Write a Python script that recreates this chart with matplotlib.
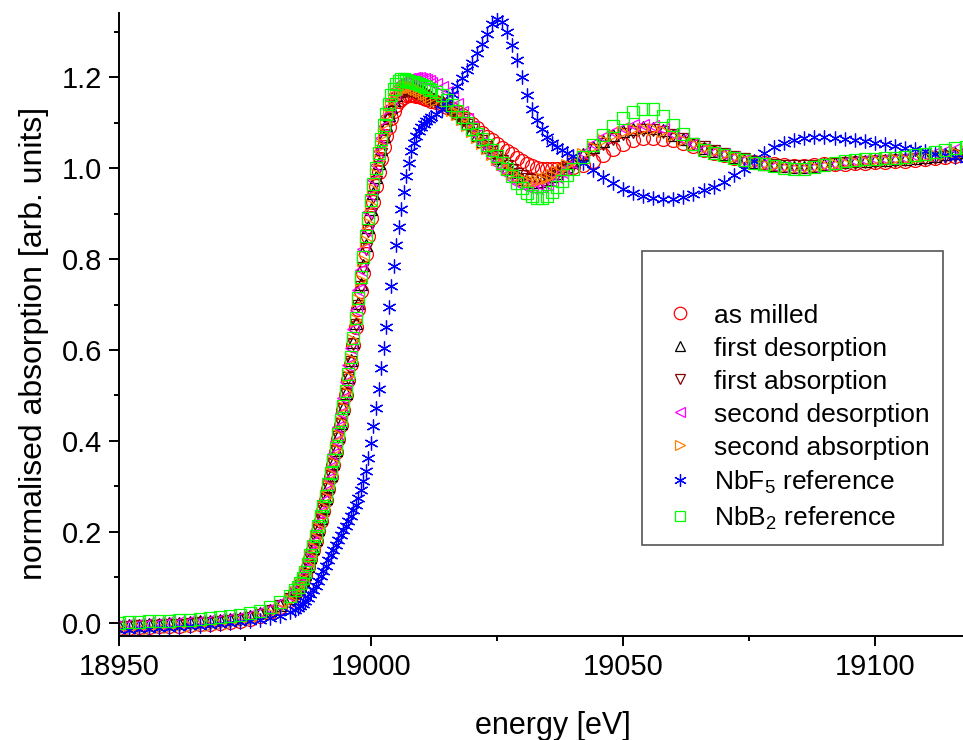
import numpy as np
import matplotlib.pyplot as plt
from matplotlib.ticker import MultipleLocator

plt.rcParams['font.family'] = ['Liberation Sans', 'DejaVu Sans']
plt.rcParams['mathtext.fontset'] = 'custom'
plt.rcParams['mathtext.rm'] = 'Liberation Sans'
plt.rcParams['mathtext.default'] = 'regular'

# energy grid [eV]: coarse pre-edge, fine edge, medium and coarse post-edge
e_pre = [18950, 18952, 18954, 18956, 18958, 18960, 18962, 18964, 18966,
         18968, 18970, 18972, 18974, 18976, 18978, 18980, 18982, 18984]
e_edge = [18985.0, 18985.5, 18986.0, 18986.5, 18987.0, 18987.5, 18988.0, 18988.5,
          18989.0, 18989.5, 18990.0, 18990.5, 18991.0, 18991.5, 18992.0, 18992.5,
          18993.0, 18993.5, 18994.0, 18994.5, 18995.0, 18995.5, 18996.0, 18996.5,
          18997.0, 18997.5, 18998.0, 18998.5, 18999.0, 18999.5, 19000.0, 19000.5,
          19001.0, 19001.5, 19002.0, 19002.5, 19003.0, 19003.5, 19004.0, 19004.5,
          19005.0, 19005.5, 19006.0, 19006.5, 19007.0, 19007.5, 19008.0, 19008.5,
          19009.0, 19009.5, 19010.0, 19010.5, 19011.0, 19011.5, 19012.0]
e_near = [19013, 19014, 19015, 19016, 19017, 19018, 19019, 19020, 19021, 19022,
          19023, 19024, 19025, 19026, 19027, 19028, 19029, 19030, 19031, 19032,
          19033, 19034, 19035, 19036, 19037, 19038, 19039, 19040]
e_far = [19042, 19044, 19046, 19048, 19050, 19052, 19054, 19056, 19058, 19060,
         19062, 19064, 19066, 19068, 19070, 19072, 19074, 19076, 19078, 19080,
         19082, 19084, 19086, 19088, 19090, 19092, 19094, 19096, 19098, 19100,
         19102, 19104, 19106, 19108, 19110, 19112, 19114, 19116, 19118]
energy = e_pre + e_edge + e_near + e_far

as_milled = [
    -0.012, -0.011, -0.010, -0.009, -0.008, -0.007, -0.006, -0.005, -0.003,
    -0.002, 0.000, 0.002, 0.005, 0.009, 0.015, 0.023, 0.034, 0.050,
    0.065, 0.072, 0.080, 0.091, 0.105, 0.122, 0.140, 0.160, 0.180, 0.202,
    0.225, 0.247, 0.270, 0.295, 0.320, 0.347, 0.375, 0.405, 0.435, 0.467,
    0.500, 0.535, 0.570, 0.610, 0.650, 0.690, 0.730, 0.770, 0.810, 0.850,
    0.890, 0.926, 0.960, 0.991, 1.020, 1.046, 1.070, 1.091, 1.110, 1.125,
    1.138, 1.147, 1.153, 1.157, 1.160, 1.161, 1.160, 1.160, 1.159, 1.158,
    1.157, 1.155, 1.153, 1.151, 1.148,
    1.145, 1.140, 1.135, 1.130, 1.124, 1.117, 1.108, 1.098, 1.088, 1.078,
    1.069, 1.061, 1.053, 1.045, 1.037, 1.030, 1.023, 1.016, 1.010, 1.005,
    1.001, 0.999, 0.998, 0.998, 0.998, 0.999, 1.000, 1.002,
    1.007, 1.016, 1.028, 1.042, 1.053, 1.061, 1.066, 1.067, 1.065, 1.061,
    1.056, 1.048, 1.040, 1.034, 1.028, 1.023, 1.018, 1.014, 1.011, 1.008,
    1.006, 1.005, 1.005, 1.006, 1.008, 1.009, 1.010, 1.011, 1.012, 1.013,
    1.014, 1.015, 1.016, 1.018, 1.020, 1.022, 1.024, 1.026, 1.027]

first_desorption = [
    -0.006, -0.005, -0.004, -0.003, -0.002, -0.001, 0.000, 0.001, 0.003,
    0.004, 0.006, 0.008, 0.011, 0.015, 0.021, 0.029, 0.040, 0.055,
    0.068, 0.075, 0.084, 0.095, 0.108, 0.126, 0.145, 0.165, 0.185, 0.207,
    0.230, 0.252, 0.275, 0.300, 0.325, 0.352, 0.380, 0.410, 0.440, 0.472,
    0.505, 0.541, 0.578, 0.618, 0.660, 0.703, 0.745, 0.788, 0.830, 0.870,
    0.910, 0.946, 0.980, 1.012, 1.042, 1.070, 1.095, 1.117, 1.135, 1.150,
    1.161, 1.169, 1.174, 1.177, 1.178, 1.178, 1.177, 1.176, 1.174, 1.172,
    1.170, 1.167, 1.164, 1.161, 1.157,
    1.153, 1.148, 1.141, 1.132, 1.122, 1.111, 1.099, 1.086, 1.073, 1.060,
    1.047, 1.035, 1.023, 1.012, 1.001, 0.992, 0.984, 0.977, 0.972, 0.970,
    0.970, 0.972, 0.976, 0.982, 0.989, 0.997, 1.005, 1.013,
    1.030, 1.046, 1.060, 1.072, 1.081, 1.087, 1.090, 1.089, 1.083, 1.073,
    1.063, 1.053, 1.045, 1.037, 1.030, 1.024, 1.018, 1.013, 1.009, 1.006,
    1.004, 1.003, 1.003, 1.005, 1.008, 1.011, 1.013, 1.015, 1.016, 1.017,
    1.018, 1.019, 1.020, 1.022, 1.024, 1.027, 1.030, 1.033, 1.035]

first_absorption = [
    -0.010, -0.009, -0.008, -0.007, -0.006, -0.005, -0.004, -0.003, -0.001,
    0.000, 0.002, 0.004, 0.007, 0.011, 0.017, 0.025, 0.036, 0.052,
    0.066, 0.073, 0.082, 0.093, 0.106, 0.124, 0.143, 0.163, 0.183, 0.205,
    0.228, 0.250, 0.273, 0.298, 0.323, 0.350, 0.378, 0.408, 0.438, 0.470,
    0.503, 0.538, 0.574, 0.614, 0.655, 0.697, 0.738, 0.780, 0.821, 0.861,
    0.900, 0.936, 0.970, 1.002, 1.032, 1.059, 1.084, 1.106, 1.125, 1.140,
    1.152, 1.160, 1.166, 1.169, 1.170, 1.170, 1.169, 1.168, 1.166, 1.164,
    1.161, 1.158, 1.155, 1.151, 1.147,
    1.143, 1.139, 1.133, 1.125, 1.116, 1.106, 1.095, 1.083, 1.071, 1.059,
    1.047, 1.036, 1.025, 1.015, 1.005, 0.996, 0.988, 0.982, 0.977, 0.974,
    0.973, 0.974, 0.977, 0.982, 0.988, 0.995, 1.002, 1.009,
    1.024, 1.039, 1.053, 1.065, 1.074, 1.080, 1.084, 1.084, 1.080, 1.072,
    1.063, 1.054, 1.046, 1.038, 1.031, 1.025, 1.019, 1.014, 1.010, 1.007,
    1.005, 1.004, 1.004, 1.005, 1.007, 1.009, 1.011, 1.012, 1.013, 1.014,
    1.015, 1.016, 1.017, 1.019, 1.021, 1.023, 1.025, 1.027, 1.029]

second_desorption = [
    -0.004, -0.003, -0.002, -0.001, 0.000, 0.001, 0.002, 0.003, 0.005,
    0.006, 0.008, 0.010, 0.013, 0.017, 0.023, 0.031, 0.043, 0.060,
    0.075, 0.083, 0.092, 0.104, 0.118, 0.136, 0.156, 0.177, 0.198, 0.221,
    0.244, 0.267, 0.291, 0.317, 0.343, 0.371, 0.400, 0.431, 0.462, 0.495,
    0.529, 0.566, 0.605, 0.646, 0.689, 0.733, 0.777, 0.821, 0.864, 0.903,
    0.940, 0.974, 1.006, 1.037, 1.066, 1.092, 1.115, 1.134, 1.150, 1.163,
    1.173, 1.181, 1.187, 1.191, 1.194, 1.196, 1.197, 1.198, 1.198, 1.198,
    1.197, 1.196, 1.194, 1.191, 1.188,
    1.185, 1.178, 1.168, 1.155, 1.140, 1.124, 1.107, 1.090, 1.073, 1.056,
    1.040, 1.025, 1.010, 0.997, 0.986, 0.976, 0.968, 0.962, 0.958, 0.956,
    0.957, 0.960, 0.965, 0.972, 0.981, 0.991, 1.001, 1.012,
    1.033, 1.052, 1.068, 1.080, 1.089, 1.094, 1.095, 1.092, 1.085, 1.075,
    1.063, 1.052, 1.043, 1.036, 1.030, 1.024, 1.018, 1.013, 1.009, 1.005,
    1.002, 1.000, 1.000, 1.002, 1.006, 1.010, 1.013, 1.016, 1.018, 1.019,
    1.020, 1.021, 1.023, 1.026, 1.029, 1.033, 1.037, 1.041, 1.043]

second_absorption = [
    -0.014, -0.013, -0.012, -0.011, -0.010, -0.009, -0.008, -0.007, -0.005,
    -0.004, -0.002, 0.000, 0.003, 0.007, 0.013, 0.021, 0.033, 0.050,
    0.068, 0.076, 0.085, 0.096, 0.110, 0.128, 0.147, 0.167, 0.187, 0.209,
    0.232, 0.254, 0.277, 0.302, 0.327, 0.354, 0.382, 0.412, 0.442, 0.474,
    0.507, 0.543, 0.581, 0.622, 0.665, 0.709, 0.753, 0.797, 0.840, 0.880,
    0.918, 0.953, 0.986, 1.018, 1.048, 1.075, 1.099, 1.120, 1.137, 1.151,
    1.162, 1.170, 1.175, 1.178, 1.179, 1.179, 1.178, 1.176, 1.174, 1.172,
    1.169, 1.166, 1.163, 1.159, 1.155,
    1.150, 1.145, 1.137, 1.128, 1.118, 1.107, 1.095, 1.082, 1.069, 1.056,
    1.044, 1.032, 1.020, 1.009, 0.999, 0.990, 0.982, 0.976, 0.972, 0.971,
    0.972, 0.975, 0.979, 0.985, 0.992, 0.999, 1.007, 1.015,
    1.031, 1.047, 1.061, 1.072, 1.080, 1.085, 1.087, 1.086, 1.081, 1.072,
    1.062, 1.052, 1.044, 1.037, 1.031, 1.025, 1.019, 1.014, 1.010, 1.006,
    1.003, 1.001, 1.001, 1.003, 1.006, 1.009, 1.012, 1.014, 1.016, 1.017,
    1.018, 1.019, 1.021, 1.023, 1.026, 1.029, 1.032, 1.035, 1.037]

nbf5_ref = [
    -0.015, -0.015, -0.014, -0.013, -0.012, -0.011, -0.010, -0.008, -0.006,
    -0.004, -0.002, 0.000, 0.002, 0.004, 0.007, 0.010, 0.016, 0.024,
    0.029, 0.033, 0.037, 0.042, 0.048, 0.055, 0.063, 0.072, 0.082, 0.092,
    0.103, 0.114, 0.126, 0.138, 0.150, 0.161, 0.172, 0.183, 0.194, 0.204,
    0.214, 0.225, 0.236, 0.248, 0.260, 0.275, 0.292, 0.312, 0.335, 0.362,
    0.395, 0.432, 0.472, 0.515, 0.560, 0.605, 0.650, 0.695, 0.740, 0.785,
    0.830, 0.870, 0.910, 0.948, 0.982, 1.012, 1.037, 1.056, 1.070, 1.082,
    1.090, 1.097, 1.103, 1.108, 1.112,
    1.118, 1.130, 1.145, 1.162, 1.180, 1.198, 1.215, 1.232, 1.252, 1.272,
    1.295, 1.316, 1.327, 1.322, 1.300, 1.270, 1.238, 1.200, 1.160, 1.130,
    1.105, 1.085, 1.068, 1.056, 1.047, 1.040, 1.033, 1.026,
    1.012, 0.996, 0.981, 0.967, 0.955, 0.945, 0.938, 0.934, 0.932, 0.933,
    0.937, 0.944, 0.951, 0.959, 0.970, 0.984, 0.999, 1.016, 1.033, 1.047,
    1.056, 1.062, 1.066, 1.068, 1.068, 1.067, 1.065, 1.062, 1.059, 1.055,
    1.052, 1.048, 1.045, 1.042, 1.037, 1.032, 1.028, 1.024, 1.021]

nbb2_ref = [
    0.000, 0.001, 0.002, 0.003, 0.004, 0.005, 0.006, 0.007, 0.009,
    0.010, 0.012, 0.014, 0.017, 0.021, 0.027, 0.035, 0.045, 0.060,
    0.072, 0.079, 0.088, 0.099, 0.112, 0.130, 0.150, 0.170, 0.190, 0.212,
    0.235, 0.257, 0.280, 0.305, 0.330, 0.357, 0.385, 0.415, 0.445, 0.477,
    0.510, 0.547, 0.585, 0.627, 0.670, 0.715, 0.760, 0.805, 0.850, 0.890,
    0.930, 0.966, 1.000, 1.033, 1.065, 1.094, 1.120, 1.142, 1.160, 1.174,
    1.185, 1.191, 1.195, 1.195, 1.194, 1.192, 1.190, 1.189, 1.187, 1.185,
    1.183, 1.181, 1.178, 1.175, 1.172,
    1.168, 1.160, 1.150, 1.138, 1.126, 1.113, 1.100, 1.087, 1.075, 1.063,
    1.051, 1.039, 1.026, 1.012, 0.997, 0.982, 0.968, 0.956, 0.946, 0.939,
    0.935, 0.935, 0.939, 0.947, 0.958, 0.971, 0.985, 0.999,
    1.025, 1.050, 1.073, 1.093, 1.110, 1.123, 1.131, 1.130, 1.115, 1.095,
    1.074, 1.052, 1.040, 1.034, 1.028, 1.022, 1.017, 1.012, 1.008, 1.004,
    1.001, 0.999, 0.999, 1.002, 1.007, 1.011, 1.015, 1.018, 1.020, 1.021,
    1.022, 1.023, 1.025, 1.028, 1.031, 1.035, 1.040, 1.044, 1.046]

labels = ['as milled', 'first desorption', 'first absorption',
          'second desorption', 'second absorption',
          'NbF$_5$ reference', 'NbB$_2$ reference']
series = [as_milled, first_desorption, first_absorption, second_desorption,
          second_absorption, nbf5_ref, nbb2_ref]
markers = ['o', '^', 'v', '<', '>', (6, 2, 0), 's']
colors = ['#ff0000', '#000000', '#800000', '#ff00ff', '#ff8000', '#0000ff', '#00ff00']
sizes = [10, 8.5, 8.5, 8.5, 8.5, 10, 8]

fig = plt.figure(figsize=(9.63, 7.40), dpi=100)
ax = fig.add_axes([0.1236, 0.1405, 0.8764, 0.8419])

handles = []
for y, m, c, s, lab in zip(series, markers, colors, sizes, labels):
    h, = ax.plot(energy, y, linestyle='none', marker=m, ms=s, mfc='none',
                 mec=c, mew=0.9, label=lab)
    handles.append(h)

ax.set_xlim(18950, 19117.5)
ax.set_ylim(-0.029, 1.341)
ax.xaxis.set_major_locator(MultipleLocator(50))
ax.xaxis.set_minor_locator(MultipleLocator(25))
ax.yaxis.set_major_locator(MultipleLocator(0.2))
ax.yaxis.set_minor_locator(MultipleLocator(0.1))
ax.yaxis.set_major_formatter(plt.FormatStrFormatter('%.1f'))

for side in ['top', 'right']:
    ax.spines[side].set_visible(False)
for side in ['left', 'bottom']:
    ax.spines[side].set_linewidth(1.4)
ax.tick_params(which='major', direction='out', length=7, width=1.4,
               labelsize=21, pad=5)
ax.tick_params(which='minor', direction='out', length=3.6, width=1.4)

ax.set_xlabel('energy [eV]', fontsize=22, labelpad=22)
ax.set_ylabel('normalised absorption [arb. units]', fontsize=23, labelpad=9)
ax.xaxis.label.set_x(0.514)
ax.yaxis.label.set_y(0.469)

leg = ax.legend(handles=handles, loc='lower left', bbox_to_anchor=(0.62, 0.146),
                borderaxespad=0, fontsize=19, title=' ', title_fontsize=23,
                fancybox=False, edgecolor='#555555', framealpha=1,
                handlelength=1.85, handletextpad=0.36, borderpad=0.5,
                labelspacing=0.34, markerscale=0.9)
leg.get_frame().set_linewidth(1.2)

fig.savefig('out.png', dpi=100)
